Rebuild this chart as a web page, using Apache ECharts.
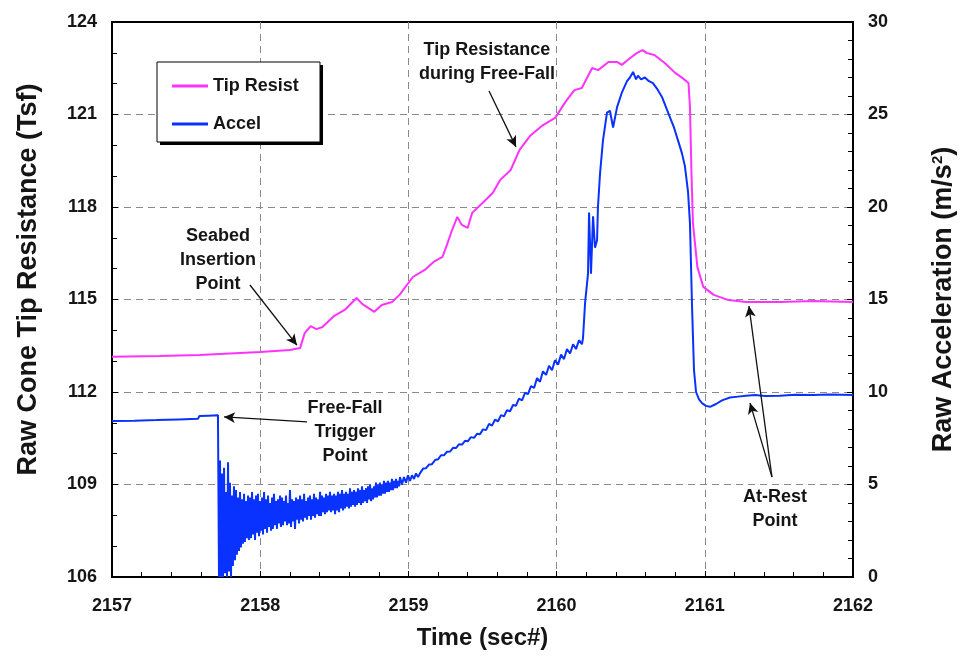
<!DOCTYPE html>
<html>
<head>
<meta charset="utf-8">
<script src="https://cdn.jsdelivr.net/npm/echarts@6/dist/echarts.min.js"></script>
<style>
  html, body { margin: 0; padding: 0; background: #fff; }
  #chart { width: 960px; height: 657px; }
</style>
</head>
<body>
<div id="chart"></div>
<script>
// Cone penetrometer drop record: tip resistance (Tsf) and acceleration (m/s^2) vs time.
const tipTime = [
  2157.00, 2157.32, 2157.59, 2158.00, 2158.20, 2158.27, 2158.30, 2158.34, 2158.38, 2158.42,
  2158.50, 2158.57, 2158.65, 2158.69, 2158.77, 2158.82, 2158.89, 2158.94, 2159.03, 2159.11,
  2159.17, 2159.23, 2159.26, 2159.29, 2159.33, 2159.36, 2159.40, 2159.43, 2159.50, 2159.57,
  2159.62, 2159.69, 2159.75, 2159.82, 2159.90, 2159.99, 2160.06, 2160.12, 2160.17, 2160.24,
  2160.28, 2160.35, 2160.41, 2160.44, 2160.48, 2160.54, 2160.58, 2160.61, 2160.66, 2160.73,
  2160.80, 2160.85, 2160.89, 2160.90, 2160.91, 2160.92, 2160.95, 2160.99, 2161.06, 2161.16,
  2161.28, 2161.51, 2161.73, 2162.00
];
const tipValue = [
  113.14, 113.17, 113.20, 113.30, 113.36, 113.43, 113.91, 114.14, 114.04, 114.11,
  114.47, 114.66, 115.05, 114.85, 114.60, 114.82, 114.92, 115.15, 115.73, 115.96,
  116.22, 116.38, 116.77, 117.19, 117.68, 117.42, 117.32, 117.81, 118.13, 118.46,
  118.88, 119.20, 119.85, 120.30, 120.63, 120.89, 121.41, 121.79, 121.86, 122.51,
  122.44, 122.70, 122.70, 122.61, 122.77, 122.99, 123.09, 122.99, 122.93, 122.67,
  122.35, 122.18, 122.02, 121.24, 119.10, 117.48, 116.05, 115.41, 115.15, 114.98,
  114.92, 114.92, 114.95, 114.92
];

const accelTime = [
  // before the trigger
  2157.000, 2157.150, 2157.300, 2157.450, 2157.580, 2157.590, 2157.650, 2157.715,
  // ringing after release
  2157.722, 2157.729, 2157.735, 2157.742, 2157.749, 2157.756, 2157.762, 2157.769, 2157.776, 2157.783,
  2157.789, 2157.796, 2157.803, 2157.810, 2157.816, 2157.823, 2157.830, 2157.837, 2157.843, 2157.850,
  2157.857, 2157.864, 2157.870, 2157.877, 2157.884, 2157.891, 2157.897, 2157.904, 2157.911, 2157.918,
  2157.924, 2157.931, 2157.938, 2157.945, 2157.951, 2157.958, 2157.965, 2157.972, 2157.978, 2157.985,
  2157.992, 2157.999, 2158.005, 2158.012, 2158.019, 2158.026, 2158.032, 2158.039, 2158.046, 2158.053,
  2158.059, 2158.066, 2158.073, 2158.080, 2158.086, 2158.093, 2158.100, 2158.107, 2158.113, 2158.120,
  2158.127, 2158.134, 2158.140, 2158.147, 2158.154, 2158.161, 2158.167, 2158.174, 2158.181, 2158.188,
  2158.194, 2158.201, 2158.208, 2158.215, 2158.221, 2158.228, 2158.235, 2158.242, 2158.248, 2158.255,
  2158.262, 2158.269, 2158.275, 2158.282, 2158.289, 2158.296, 2158.302, 2158.309, 2158.316, 2158.323,
  2158.329, 2158.336, 2158.343, 2158.350, 2158.356, 2158.363, 2158.370, 2158.377, 2158.383, 2158.390,
  2158.397, 2158.404, 2158.410, 2158.417, 2158.424, 2158.431, 2158.437, 2158.444, 2158.451, 2158.458,
  2158.464, 2158.471, 2158.478, 2158.485, 2158.491, 2158.498, 2158.505, 2158.511, 2158.518, 2158.525,
  2158.532, 2158.538, 2158.545, 2158.552, 2158.559, 2158.565, 2158.572, 2158.579, 2158.586, 2158.592,
  2158.599, 2158.606, 2158.613, 2158.619, 2158.626, 2158.633, 2158.640, 2158.646, 2158.653, 2158.660,
  2158.667, 2158.673, 2158.680, 2158.687, 2158.694, 2158.700, 2158.707, 2158.714, 2158.721, 2158.727,
  2158.734, 2158.741, 2158.748, 2158.754, 2158.761, 2158.768, 2158.775, 2158.781, 2158.788, 2158.795,
  2158.802, 2158.808, 2158.815, 2158.822, 2158.829, 2158.835, 2158.842, 2158.849, 2158.856, 2158.862,
  2158.869, 2158.876, 2158.883, 2158.889, 2158.896, 2158.903, 2158.910, 2158.916, 2158.923, 2158.930,
  2158.937, 2158.943,
  2158.957, 2158.970, 2158.984, 2158.997, 2159.011, 2159.024, 2159.038, 2159.051, 2159.065, 2159.078,
  // free-fall build-up
  2159.099, 2159.119, 2159.139, 2159.159, 2159.180, 2159.200, 2159.220, 2159.240, 2159.260, 2159.281,
  2159.301, 2159.321, 2159.341, 2159.362, 2159.382, 2159.402, 2159.422, 2159.443, 2159.463, 2159.483,
  2159.503, 2159.524, 2159.544, 2159.564, 2159.584, 2159.605, 2159.625, 2159.645, 2159.665, 2159.686,
  2159.706, 2159.726, 2159.746, 2159.767, 2159.787, 2159.807, 2159.827, 2159.848, 2159.868, 2159.888,
  2159.908, 2159.929, 2159.949, 2159.969, 2159.989, 2160.010, 2160.030, 2160.050, 2160.070, 2160.091,
  2160.111, 2160.131, 2160.151, 2160.171,
  // impact pulse and rest
  2160.178, 2160.192, 2160.212, 2160.219, 2160.232, 2160.246, 2160.259, 2160.273, 2160.279, 2160.293,
  2160.313, 2160.340, 2160.360, 2160.381, 2160.408, 2160.441, 2160.475, 2160.495, 2160.516, 2160.536,
  2160.549, 2160.570, 2160.596, 2160.623, 2160.650, 2160.677, 2160.711, 2160.738, 2160.765, 2160.792,
  2160.819, 2160.846, 2160.866, 2160.887, 2160.900, 2160.914, 2160.927, 2160.941, 2160.961, 2160.981,
  2161.008, 2161.035, 2161.076, 2161.116, 2161.170, 2161.224, 2161.278, 2161.339, 2161.406, 2161.507,
  2161.608, 2161.730, 2161.845, 2162.000
];
const accelValue = [
  8.43, 8.45, 8.48, 8.52, 8.55, 8.70, 8.72, 8.74,
  0.0, 6.3, 0.0, 5.6, 0.0, 5.9, 0.2, 4.6, 0.0, 6.2,
  0.3, 5.1, 0.0, 4.4, 0.6, 4.9, 0.9, 4.7, 1.2, 4.3,
  1.4, 4.6, 1.6, 4.2, 1.8, 4.5, 1.9, 4.1, 2.1, 4.4,
  2.0, 4.3, 2.1, 4.6, 2.3, 4.2, 2.0, 4.4, 2.4, 4.5,
  2.2, 4.1, 2.5, 4.3, 2.3, 4.6, 2.6, 4.2, 2.4, 4.4,
  2.7, 4.0, 2.5, 4.3, 2.6, 4.5, 2.8, 4.1, 2.6, 4.2,
  2.9, 4.4, 2.7, 4.3, 2.8, 4.1, 3.0, 4.4, 2.8, 4.0,
  2.9, 4.7, 2.7, 4.2, 3.0, 4.1, 2.6, 4.3, 3.1, 4.2,
  2.9, 4.4, 3.1, 4.2, 3.0, 4.5, 3.2, 4.1, 3.1, 4.3,
  3.3, 4.4, 3.1, 4.2, 3.3, 4.5, 3.2, 4.3, 3.4, 4.2,
  3.3, 4.6, 3.3, 4.4, 3.5, 4.3, 3.4, 4.5, 3.5, 4.4,
  3.6, 4.6, 3.5, 4.4, 3.6, 4.5, 3.4, 4.4, 3.6, 4.6,
  3.5, 4.5, 3.7, 4.7, 3.6, 4.5, 3.7, 4.6, 3.8, 4.5,
  3.7, 4.8, 3.8, 4.6, 3.9, 4.7, 3.8, 4.6, 3.9, 4.8,
  4.0, 4.7, 3.9, 4.9, 4.0, 4.7, 4.1, 4.8, 4.0, 4.9,
  4.2, 5.0, 4.1, 4.8, 4.2, 4.9, 4.3, 5.1, 4.3, 5.0,
  4.4, 5.1, 4.4, 5.0, 4.5, 5.2, 4.5, 5.1, 4.6, 5.2,
  4.6, 5.1, 4.7, 5.3, 4.7, 5.2, 4.8, 5.3, 4.8, 5.2,
  4.9, 5.4,
  5.0, 5.4, 5.1, 5.5, 5.2, 5.5, 5.3, 5.6, 5.4, 5.6,
  5.86, 5.88, 6.08, 6.10, 6.32, 6.36, 6.58, 6.58, 6.77, 6.78,
  6.98, 6.97, 7.17, 7.16, 7.36, 7.34, 7.56, 7.52, 7.74, 7.72,
  7.98, 7.94, 8.28, 8.18, 8.50, 8.42, 8.75, 8.68, 9.02, 8.96,
  9.30, 9.26, 9.64, 9.55, 9.96, 9.88, 10.32, 10.22, 10.75, 10.55,
  11.12, 10.92, 11.42, 11.18, 11.72, 11.48, 12.02, 11.78, 12.32, 12.08,
  12.58, 12.32, 12.80, 12.58,
  12.9, 14.8, 16.4, 19.7, 16.4, 19.5, 17.8, 18.2, 20.0, 21.8,
  23.6, 25.1, 25.2, 24.3, 25.4, 26.2, 26.8, 27.0, 27.3, 26.9,
  27.1, 26.9, 27.0, 26.8, 26.7, 26.4, 25.95, 25.4, 24.85, 24.3,
  23.6, 22.9, 22.2, 20.8, 19.1, 14.6, 11.2, 10.0, 9.6, 9.4,
  9.25, 9.2, 9.35, 9.55, 9.7, 9.75, 9.8, 9.84, 9.78, 9.8,
  9.85, 9.84, 9.86, 9.84
];

// Axis ranges
const timeRange = [2157, 2162];
const tipRange = [106, 124];
const accelRange = [0, 30];

const FONT = '"Liberation Sans", Arial, sans-serif';
const TEXT = '#151515';

const pair = (xs, ys) => xs.map((x, i) => [x, ys[i]]);

const arrowLine = {
  symbol: ['none', 'arrow'],
  symbolSize: [8, 11],
  silent: true,
  label: { show: false },
  lineStyle: { color: '#111', width: 1.3, type: 'solid' },
  emphasis: { disabled: true }
};

const noteLabel = (text) => ({
  show: true,
  position: 'inside',
  formatter: text,
  fontFamily: FONT,
  fontSize: 18,
  fontWeight: 'bold',
  lineHeight: 24,
  color: TEXT,
  align: 'center',
  verticalAlign: 'middle'
});

const chart = echarts.init(document.getElementById('chart'), null, { renderer: 'canvas' });

chart.setOption({
  backgroundColor: '#fff',
  animation: false,
  grid: {
    left: 112, right: 107, top: 22, bottom: 80,
    outerBoundsMode: 'none',
    show: true, borderColor: '#000', borderWidth: 2, backgroundColor: '#fff'
  },
  // legend frame with a drop shadow
  graphic: [
    { type: 'rect', z: 3, silent: true, shape: { x: 160, y: 65, width: 163, height: 80 }, style: { fill: '#000' } },
    { type: 'rect', z: 3, silent: true, shape: { x: 157, y: 62, width: 163, height: 80 }, style: { fill: '#fff', stroke: '#000', lineWidth: 1 } }
  ],
  legend: {
    orient: 'vertical',
    left: 157, top: 62,
    data: [{ name: 'Tip Resist', icon: 'rect' }, { name: 'Accel', icon: 'rect' }],
    itemWidth: 36, itemHeight: 3, itemGap: 20,
    padding: [15, 15, 9, 15],
    textStyle: { fontFamily: FONT, fontSize: 18, fontWeight: 'bold', color: TEXT },
    selectedMode: false
  },
  xAxis: {
    type: 'value',
    min: timeRange[0], max: timeRange[1], interval: 1,
    axisLine: { show: true, onZero: false, lineStyle: { color: '#000', width: 2 } },
    axisTick: { show: true, inside: true, length: 6, lineStyle: { color: '#000', width: 1 } },
    minorTick: { show: true, splitNumber: 5, length: 5, lineStyle: { color: '#000', width: 1 } },
    axisLabel: {
      formatter: (v) => String(v), margin: 20,
      fontFamily: FONT, fontSize: 18, fontWeight: 'bold', color: TEXT
    },
    splitLine: {
      show: true, showMinLine: false, showMaxLine: false,
      lineStyle: { color: '#8a8a8a', width: 1, type: [7, 5] }
    },
    name: 'Time (sec#)', nameLocation: 'middle', nameGap: 49,
    nameTextStyle: { fontFamily: FONT, fontSize: 24, fontWeight: 'bold', color: TEXT }
  },
  yAxis: [
    {
      type: 'value',
      min: tipRange[0], max: tipRange[1], interval: 3,
      position: 'left',
      axisLine: { show: true, lineStyle: { color: '#000', width: 2 } },
      axisTick: { show: true, inside: true, length: 6, lineStyle: { color: '#000', width: 1 } },
      minorTick: { show: true, splitNumber: 3, length: 5, lineStyle: { color: '#000', width: 1 } },
      axisLabel: { margin: 15, fontFamily: FONT, fontSize: 18, fontWeight: 'bold', color: TEXT },
      splitLine: {
        show: true, showMinLine: false, showMaxLine: false,
        lineStyle: { color: '#8a8a8a', width: 1, type: [7, 5] }
      },
      name: 'Raw Cone Tip Resistance (Tsf)', nameLocation: 'middle', nameGap: 70, nameRotate: 90,
      nameTextStyle: { fontFamily: FONT, fontSize: 27, fontWeight: 'bold', color: TEXT, padding: [0, 0, 0, 40] }
    },
    {
      type: 'value',
      min: accelRange[0], max: accelRange[1], interval: 5,
      position: 'right',
      axisLine: { show: true, lineStyle: { color: '#000', width: 2 } },
      axisTick: { show: true, inside: true, length: 6, lineStyle: { color: '#000', width: 1 } },
      minorTick: { show: true, splitNumber: 5, length: 5, lineStyle: { color: '#000', width: 1 } },
      axisLabel: { margin: 15, fontFamily: FONT, fontSize: 18, fontWeight: 'bold', color: TEXT },
      splitLine: { show: false },
      name: 'Raw Acceleration (m/s{sup|2})', nameLocation: 'middle', nameGap: 77, nameRotate: 90,
      nameTextStyle: {
        fontFamily: FONT, fontSize: 27, fontWeight: 'bold', color: TEXT,
        rich: {
          sup: { fontFamily: FONT, fontSize: 15, fontWeight: 'bold', color: TEXT, verticalAlign: 'bottom', padding: [0, 0, 13, 0] }
        }
      }
    }
  ],
  series: [
    {
      name: 'Tip Resist',
      type: 'line',
      yAxisIndex: 0,
      data: pair(tipTime, tipValue),
      showSymbol: false,
      color: '#ff33ff',
      lineStyle: { color: '#ff33ff', width: 2 },
      emphasis: { disabled: true },
      markLine: Object.assign({}, arrowLine, {
        data: [
          [{ coord: [2159.544, 121.76] }, { coord: [2159.726, 119.95] }],
          [{ coord: [2157.931, 115.47] }, { coord: [2158.248, 113.52] }],
          [{ coord: [2161.453, 109.24] }, { coord: [2161.298, 114.79] }]
        ]
      }),
      markPoint: {
        symbol: 'rect', symbolSize: 1, silent: true,
        itemStyle: { color: 'rgba(0,0,0,0)' },
        data: [
          { coord: [2159.530, 122.70], label: noteLabel('Tip Resistance\nduring Free-Fall') },
          { coord: [2157.715, 116.28], label: noteLabel('Seabed\nInsertion\nPoint') },
          { coord: [2158.572, 110.70], label: noteLabel('Free-Fall\nTrigger\nPoint') },
          { coord: [2161.474, 108.21], label: noteLabel('At-Rest\nPoint') }
        ]
      }
    },
    {
      name: 'Accel',
      type: 'line',
      yAxisIndex: 1,
      data: pair(accelTime, accelValue),
      showSymbol: false,
      sampling: 'none',
      color: '#0a32ff',
      lineStyle: { color: '#0a32ff', width: 2 },
      emphasis: { disabled: true },
      markLine: Object.assign({}, arrowLine, {
        data: [
          [{ coord: [2158.316, 8.38] }, { coord: [2157.756, 8.65] }],
          [{ coord: [2161.453, 5.41] }, { coord: [2161.305, 9.41] }]
        ]
      })
    }
  ]
});
</script>
</body>
</html>
